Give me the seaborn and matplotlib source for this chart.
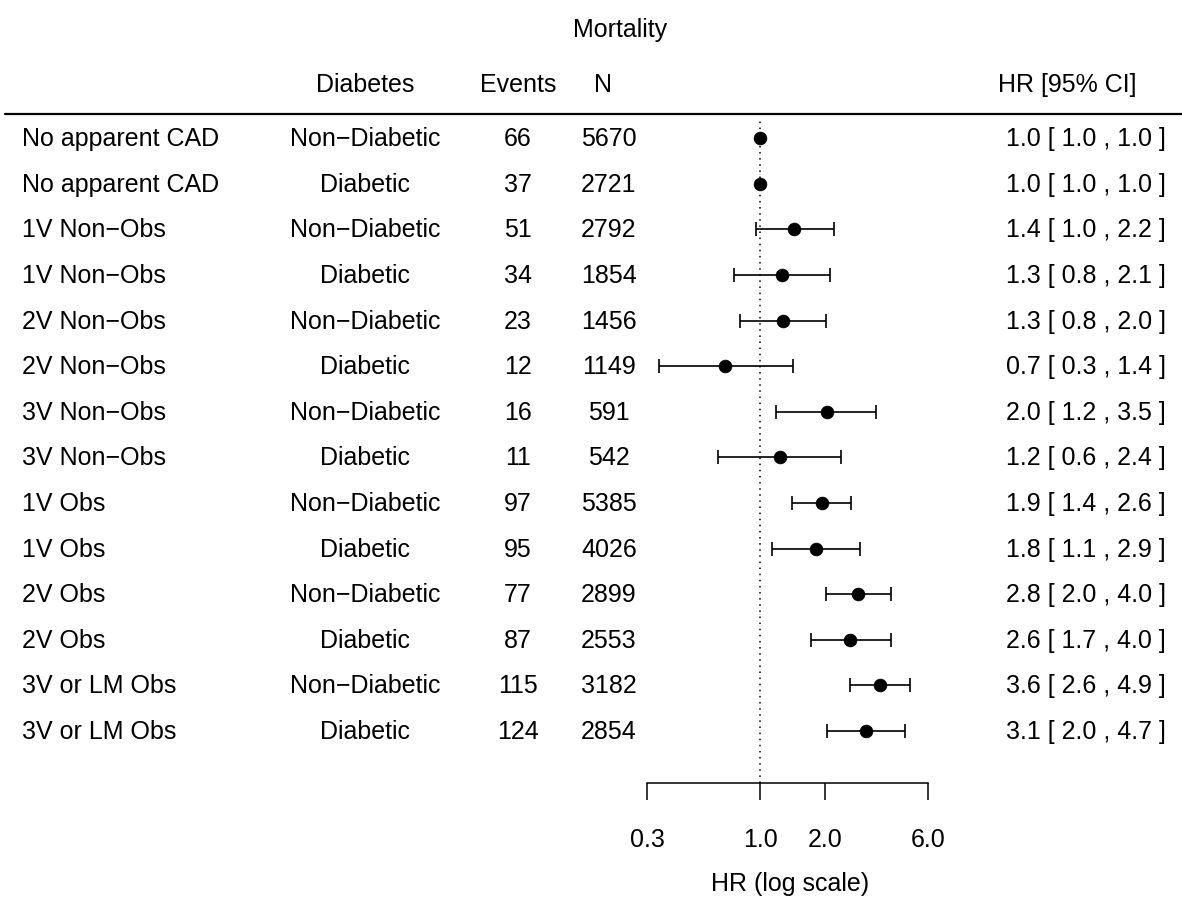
import numpy as np
import pandas as pd
import matplotlib
matplotlib.use("Agg")
import matplotlib.pyplot as plt
import matplotlib.transforms as mtransforms
from matplotlib.lines import Line2D
import seaborn as sns

# ---- data ----
groups = ["No apparent CAD", "No apparent CAD", "1V Non\u2212Obs", "1V Non\u2212Obs",
          "2V Non\u2212Obs", "2V Non\u2212Obs", "3V Non\u2212Obs", "3V Non\u2212Obs",
          "1V Obs", "1V Obs", "2V Obs", "2V Obs", "3V or LM Obs", "3V or LM Obs"]
diabetes = ["Non\u2212Diabetic", "Diabetic"] * 7
events = [66, 37, 51, 34, 23, 12, 16, 11, 97, 95, 77, 87, 115, 124]
n_pts = [5670, 2721, 2792, 1854, 1456, 1149, 591, 542, 5385, 4026, 2899, 2553, 3182, 2854]
hr = [1.0, 1.0, 1.44, 1.27, 1.28, 0.69, 2.04, 1.24, 1.94, 1.82, 2.84, 2.62, 3.58, 3.10]
ci_lo = [1.0, 1.0, 0.96, 0.76, 0.81, 0.34, 1.19, 0.64, 1.40, 1.13, 2.01, 1.72, 2.60, 2.04]
ci_hi = [1.0, 1.0, 2.20, 2.11, 2.01, 1.42, 3.46, 2.36, 2.64, 2.90, 4.03, 4.04, 4.92, 4.68]
axis_ticks = [0.3, 1.0, 2.0, 6.0]

df = pd.DataFrame({"group": groups, "diabetes": diabetes, "events": events,
                   "n": n_pts, "hr": hr, "lo": ci_lo, "hi": ci_hi})
df["row"] = np.arange(len(df))

# ---- style ----
sns.set_theme(style="white")
plt.rcParams["font.family"] = ["Liberation Sans", "DejaVu Sans"]
plt.rcParams["text.color"] = "black"
plt.rcParams["axes.labelcolor"] = "black"
plt.rcParams["xtick.color"] = "black"
FS = 18

fig = plt.figure(figsize=(11.82, 9.03), dpi=100)
ax = fig.add_axes([640 / 1182, 0.1318, 300 / 1182, 0.7353])
ax.set_facecolor("none")
ax.set_xscale("log")
ax.set_xlim(0.278, 6.81)
ax.set_ylim(14.14, -0.42)

# reference line at HR = 1
ax.axvline(1.0, color="black", ls=(0, (1, 3)), lw=1.1, zorder=1)

# confidence intervals
ci = df[df["hi"] > df["lo"]]
ax.errorbar(ci["hr"], ci["row"],
            xerr=[ci["hr"] - ci["lo"], ci["hi"] - ci["hr"]],
            fmt="none", ecolor="black", elinewidth=1.2, capsize=5, capthick=1.2, zorder=2)

# point estimates
sns.scatterplot(data=df, x="hr", y="row", color="black", s=85, edgecolor="black",
                linewidth=0.5, zorder=3, ax=ax, legend=False)

# axis styling
for side in ["top", "right", "left"]:
    ax.spines[side].set_visible(False)
ax.spines["bottom"].set_bounds(axis_ticks[0], axis_ticks[-1])
ax.spines["bottom"].set_linewidth(1.1)
ax.spines["bottom"].set_color("black")
ax.set_xticks(axis_ticks)
ax.set_xticklabels([f"{t:.1f}" for t in axis_ticks])
ax.xaxis.set_minor_locator(matplotlib.ticker.NullLocator())
ax.tick_params(axis="x", bottom=True, direction="out", length=12, width=1.1,
               pad=20, labelsize=FS, colors="black")
ax.set_yticks([])
ax.set_xlabel("HR (log scale)", fontsize=FS, labelpad=14, color="black")
ax.set_ylabel("")

# table columns
trans = mtransforms.blended_transform_factory(fig.transFigure, ax.transData)
for _, r in df.iterrows():
    y = r["row"]
    ax.text(22 / 1182, y, r["group"], transform=trans, ha="left", va="center", fontsize=FS)
    ax.text(365 / 1182, y, r["diabetes"], transform=trans, ha="center", va="center", fontsize=FS)
    ax.text(518 / 1182, y, f"{r['events']}", transform=trans, ha="center", va="center", fontsize=FS)
    ax.text(609 / 1182, y, f"{r['n']}", transform=trans, ha="center", va="center", fontsize=FS)
    ax.text(1166 / 1182, y, f"{r['hr']:.1f} [ {r['lo']:.1f} , {r['hi']:.1f} ]",
            transform=trans, ha="right", va="center", fontsize=FS)

# headers
fig.text(620 / 1182, 1 - 30 / 903, "Mortality", ha="center", va="center", fontsize=FS)
hy = 1 - 85 / 903
fig.text(365 / 1182, hy, "Diabetes", ha="center", va="center", fontsize=FS)
fig.text(518 / 1182, hy, "Events", ha="center", va="center", fontsize=FS)
fig.text(603 / 1182, hy, "N", ha="center", va="center", fontsize=FS)
fig.text(1067 / 1182, hy, "HR [95% CI]", ha="center", va="center", fontsize=FS)
fig.add_artist(Line2D([5 / 1182, 1.0], [1 - 115 / 903, 1 - 115 / 903],
                      transform=fig.transFigure, color="black", lw=1.6))

fig.savefig("out.png", dpi=100, facecolor="white")
